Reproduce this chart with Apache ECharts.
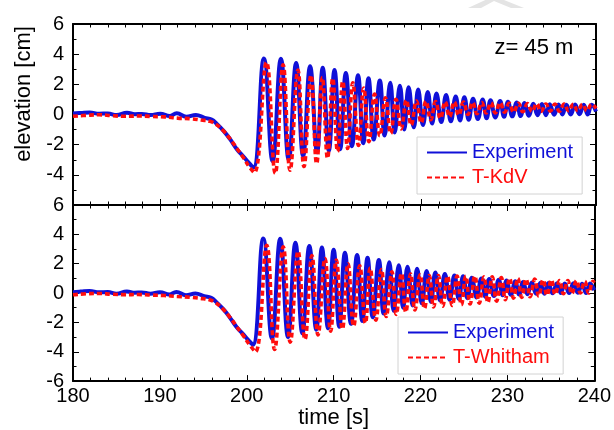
<!DOCTYPE html>
<html>
<head>
<meta charset="utf-8">
<script src="https://cdn.jsdelivr.net/npm/echarts@6/dist/echarts.min.js"></script>
<style>
  html, body { margin: 0; padding: 0; background: #fff; }
  #chart { width: 614px; height: 430px; }
</style>
</head>
<body>
<div id="chart"></div>
<script>
const FONT = '"Liberation Sans", Arial, Helvetica, sans-serif';
const BLUE = '#1010d8';
const RED = '#ff0d0d';

const timeMin = 180;
const timeMax = 240;
const timeStep = 10;
const elevMin = -6;
const elevMax = 6;
const elevStep = 2;
const stationLabel = 'z= 45 m';

// Measured surface elevation [t (s), eta (cm)]
const experiment = [
  [180.0, 0.06], [180.9, 0.1], [181.9, 0.14], [183.0, 0.05], [184.0, 0.07], [185.0, -0.04],
  [186.2, 0.11], [187.1, 0.02], [187.9, 0.04], [188.9, -0.04], [190.0, 0.05], [191.1, -0.1],
  [191.9, 0.08], [193.0, -0.15], [194.1, -0.03], [195.1, -0.22], [195.9, -0.33], [196.5, -0.62],
  [197.3, -1.1], [198.0, -1.62], [198.8, -2.3], [199.6, -2.82], [200.1, -3.15], [200.7, -3.52],
  [201.9, 3.72], [202.9, -3.1], [203.85, 3.7], [204.75, -3.0], [205.6, 3.42], [206.4, -2.75],
  [207.2, 3.2], [208.0, -2.5], [208.65, 3.1], [209.35, -2.4], [210.0, 2.95], [210.65, -2.3],
  [211.3, 2.75], [212.0, -2.1], [212.7, 2.6], [213.3, -1.9], [213.9, 2.4], [214.5, -1.65],
  [215.2, 2.25], [215.75, -1.4], [216.4, 2.1], [216.9, -1.2], [217.5, 1.9], [218.0, -1.0],
  [218.5, 1.8], [219.1, -0.85], [219.6, 1.65], [220.15, -0.7], [220.7, 1.5], [221.2, -0.6],
  [221.7, 1.4], [222.25, -0.5], [222.8, 1.3], [223.35, -0.45], [223.9, 1.2], [224.4, -0.4],
  [224.9, 1.15], [225.4, -0.35], [225.9, 1.05], [226.45, -0.3], [227.0, 1.0], [227.45, -0.25],
  [227.9, 0.95], [228.45, -0.2], [229.0, 0.9], [229.45, -0.15], [229.9, 0.85], [230.4, -0.12],
  [230.9, 0.8], [231.35, -0.1], [231.8, 0.76], [232.3, -0.08], [232.8, 0.72], [233.3, -0.05],
  [233.8, 0.7], [234.25, -0.05], [234.7, 0.68], [235.2, -0.02], [235.7, 0.66], [236.15, 0.0],
  [236.6, 0.65], [237.1, 0.0], [237.6, 0.66], [238.1, 0.02], [238.6, 0.64], [239.05, 0.0],
  [239.5, 0.65], [240.0, 0.2]
];

// T-KdV model [t (s), eta (cm)]
const kdv = [
  [180.0, -0.12], [181.5, -0.06], [183.0, -0.02], [184.5, -0.08], [186.0, -0.12], [187.5, -0.1],
  [189.0, -0.13], [190.5, -0.16], [192.0, -0.24], [193.5, -0.28], [194.7, -0.37], [195.7, -0.45],
  [196.4, -0.65], [197.2, -1.05], [198.0, -1.6], [198.8, -2.25], [199.6, -2.9], [200.2, -3.45],
  [200.8, -3.85], [202.2, 3.45], [203.2, -3.9], [204.1, 3.3], [204.9, -3.7], [205.8, 2.95],
  [206.5, -3.45], [207.3, 2.6], [207.95, -3.25], [208.6, 2.45], [209.2, -2.9], [209.8, 2.4],
  [210.35, -2.45], [210.95, 2.2], [211.5, -2.25], [212.1, 2.1], [212.75, -2.05], [213.35, 1.75],
  [213.95, -1.8], [214.6, 1.35], [215.2, -1.4], [215.85, 1.1], [216.45, -1.25], [217.05, 1.0],
  [217.65, -0.95], [218.25, 0.95], [218.8, -0.7], [219.4, 0.9], [219.95, -0.55], [220.5, 0.88],
  [221.05, -0.35], [221.6, 0.86], [222.15, -0.25], [222.7, 0.85], [223.2, -0.15], [223.75, 0.84],
  [224.25, -0.05], [224.8, 0.82], [225.3, 0.0], [225.85, 0.8], [226.35, 0.05], [226.9, 0.8],
  [227.4, 0.1], [227.95, 0.78], [228.45, 0.1], [229.0, 0.78], [229.5, 0.15], [230.05, 0.75],
  [230.55, 0.15], [231.1, 0.75], [231.6, 0.18], [232.15, 0.72], [232.65, 0.2], [233.2, 0.72],
  [233.7, 0.2], [234.25, 0.7], [234.75, 0.22], [235.3, 0.7], [235.8, 0.22], [236.35, 0.7],
  [236.85, 0.25], [237.4, 0.68], [237.9, 0.25], [238.45, 0.68], [238.95, 0.25], [239.5, 0.68],
  [240.0, 0.4]
];

// T-Whitham model [t (s), eta (cm)]
const whitham = [
  [180.0, -0.12], [181.5, -0.05], [183.0, -0.03], [184.5, -0.08], [186.0, -0.11], [187.5, -0.1],
  [189.0, -0.14], [190.5, -0.17], [192.0, -0.23], [193.5, -0.29], [194.7, -0.36], [195.7, -0.46],
  [196.4, -0.66], [197.2, -1.05], [198.0, -1.6], [198.8, -2.25], [199.6, -2.9], [200.3, -3.5],
  [201.0, -4.0], [202.3, 3.25], [203.2, -3.85], [204.2, 3.15], [205.0, -3.35], [205.9, 2.85],
  [206.7, -3.15], [207.5, 2.55], [208.2, -2.85], [209.0, 2.35], [209.65, -2.6], [210.3, 2.25],
  [211.0, -2.45], [211.65, 2.0], [212.3, -2.25], [213.0, 1.85], [213.65, -2.05], [214.2, 1.7],
  [214.85, -1.85], [215.5, 1.6], [216.05, -1.6], [216.7, 1.45], [217.2, -1.45], [217.8, 1.35],
  [218.3, -1.3], [218.85, 1.3], [219.35, -1.15], [219.95, 1.25], [220.45, -1.05], [221.0, 1.2],
  [221.5, -0.95], [222.05, 1.2], [222.55, -0.9], [223.1, 1.15], [223.65, -0.85], [224.2, 1.15],
  [224.7, -0.8], [225.2, 1.15], [225.7, -0.75], [226.25, 1.15], [226.75, -0.7], [227.3, 1.1],
  [227.75, -0.65], [228.25, 1.1], [228.75, -0.55], [229.3, 1.05], [229.75, -0.45], [230.25, 1.0],
  [230.7, -0.35], [231.2, 1.0], [231.65, -0.3], [232.15, 0.95], [232.6, -0.25], [233.15, 0.95],
  [233.6, -0.2], [234.1, 0.9], [234.55, -0.15], [235.05, 0.9], [235.5, -0.1], [236.0, 0.85],
  [236.45, -0.05], [236.95, 0.85], [237.4, -0.05], [237.95, 0.85], [238.4, 0.0], [238.9, 0.8],
  [239.35, 0.0], [239.85, 0.8], [240.0, 0.7]
];

const chart = echarts.init(document.getElementById('chart'), null, { renderer: 'canvas' });

const frameLine = { show: true, onZero: false, lineStyle: { color: '#000', width: 2 } };
const tick = { show: true, inside: true, length: 6, lineStyle: { color: '#000', width: 1 } };
const minor = (n) => ({ show: true, splitNumber: n, length: 3.5, lineStyle: { color: '#000', width: 1 } });
const labelFont = { fontFamily: FONT, fontSize: 20, color: '#000' };

function timeAxis(gridIndex, position, showLabels, extra) {
  return Object.assign({
    type: 'value', gridIndex, position,
    min: timeMin, max: timeMax, interval: timeStep,
    axisLine: frameLine, axisTick: tick, minorTick: minor(5),
    splitLine: { show: false },
    axisLabel: Object.assign({ show: showLabels, margin: 5 }, labelFont)
  }, extra || {});
}

function elevAxis(gridIndex, position, showLabels, hideBottom) {
  return {
    type: 'value', gridIndex, position,
    min: elevMin, max: elevMax, interval: elevStep,
    axisLine: frameLine, axisTick: tick, minorTick: minor(2),
    splitLine: { show: false },
    axisLabel: Object.assign({
      show: showLabels, margin: 9,
      formatter: (v) => (hideBottom && v === elevMin) ? '' : String(v)
    }, labelFont)
  };
}

function lineSeries(name, data, xi, yi, color, dashed) {
  return {
    type: 'line', name, data,
    xAxisIndex: xi, yAxisIndex: yi,
    showSymbol: false, symbol: 'none', smooth: 0.45,
    clip: true, animation: false,
    lineStyle: { color, width: dashed ? 3.6 : 4, type: dashed ? [5, 3] : 'solid' },
    itemStyle: { color },
    z: dashed ? 3 : 2
  };
}

function legendBox(left, top, modelName) {
  return {
    orient: 'vertical', left, top,
    padding: [5, 9, 6, 9], itemGap: 4,
    itemWidth: 40, itemHeight: 14,
    borderColor: '#d2d2d2', borderWidth: 1, backgroundColor: '#fff',
    selectedMode: false,
    itemStyle: { opacity: 0 },
    textStyle: { fontFamily: FONT, fontSize: 20, lineHeight: 21 },
    data: [
      { name: 'Experiment', textStyle: { color: BLUE } },
      { name: modelName, textStyle: { color: RED } }
    ]
  };
}

chart.setOption({
  animation: false,
  backgroundColor: '#fff',
  grid: [
    { left: 73, top: 24, width: 523, height: 181 },
    { left: 73, top: 205, width: 523, height: 181 }
  ],
  xAxis: [
    timeAxis(0, 'bottom', false),
    timeAxis(0, 'top', false),
    timeAxis(1, 'bottom', true, {
      name: 'time [s]', nameLocation: 'middle', nameGap: 21,
      nameTextStyle: { fontFamily: FONT, fontSize: 22, color: '#000' }
    }),
    timeAxis(1, 'top', false)
  ],
  yAxis: [
    elevAxis(0, 'left', true, true),
    elevAxis(0, 'right', false, false),
    elevAxis(1, 'left', true, false),
    elevAxis(1, 'right', false, false)
  ],
  legend: [
    legendBox(417, 137, 'T-KdV'),
    legendBox(398, 317, 'T-Whitham')
  ],
  series: [
    lineSeries('Experiment', experiment, 0, 0, BLUE, false),
    lineSeries('T-KdV', kdv, 0, 0, RED, true),
    lineSeries('Experiment', experiment, 2, 2, BLUE, false),
    lineSeries('T-Whitham', whitham, 2, 2, RED, true)
  ],
  graphic: [
    {
      type: 'polygon', silent: true, z: 0,
      shape: { points: [[468, 8], [494, -4], [524, 8], [511, 8], [494, 1], [481, 8]] },
      style: { fill: '#e4e4e4' }
    },
    {
      type: 'text', x: 24, y: 94, rotation: Math.PI / 2,
      style: {
        text: 'elevation [cm]', fill: '#000',
        font: '22px ' + FONT, align: 'center', verticalAlign: 'middle'
      }
    },
    {
      type: 'text', x: 534, y: 48,
      style: {
        text: stationLabel, fill: '#000',
        font: '22px ' + FONT, align: 'center', verticalAlign: 'middle'
      }
    }
  ]
});
</script>
</body>
</html>
